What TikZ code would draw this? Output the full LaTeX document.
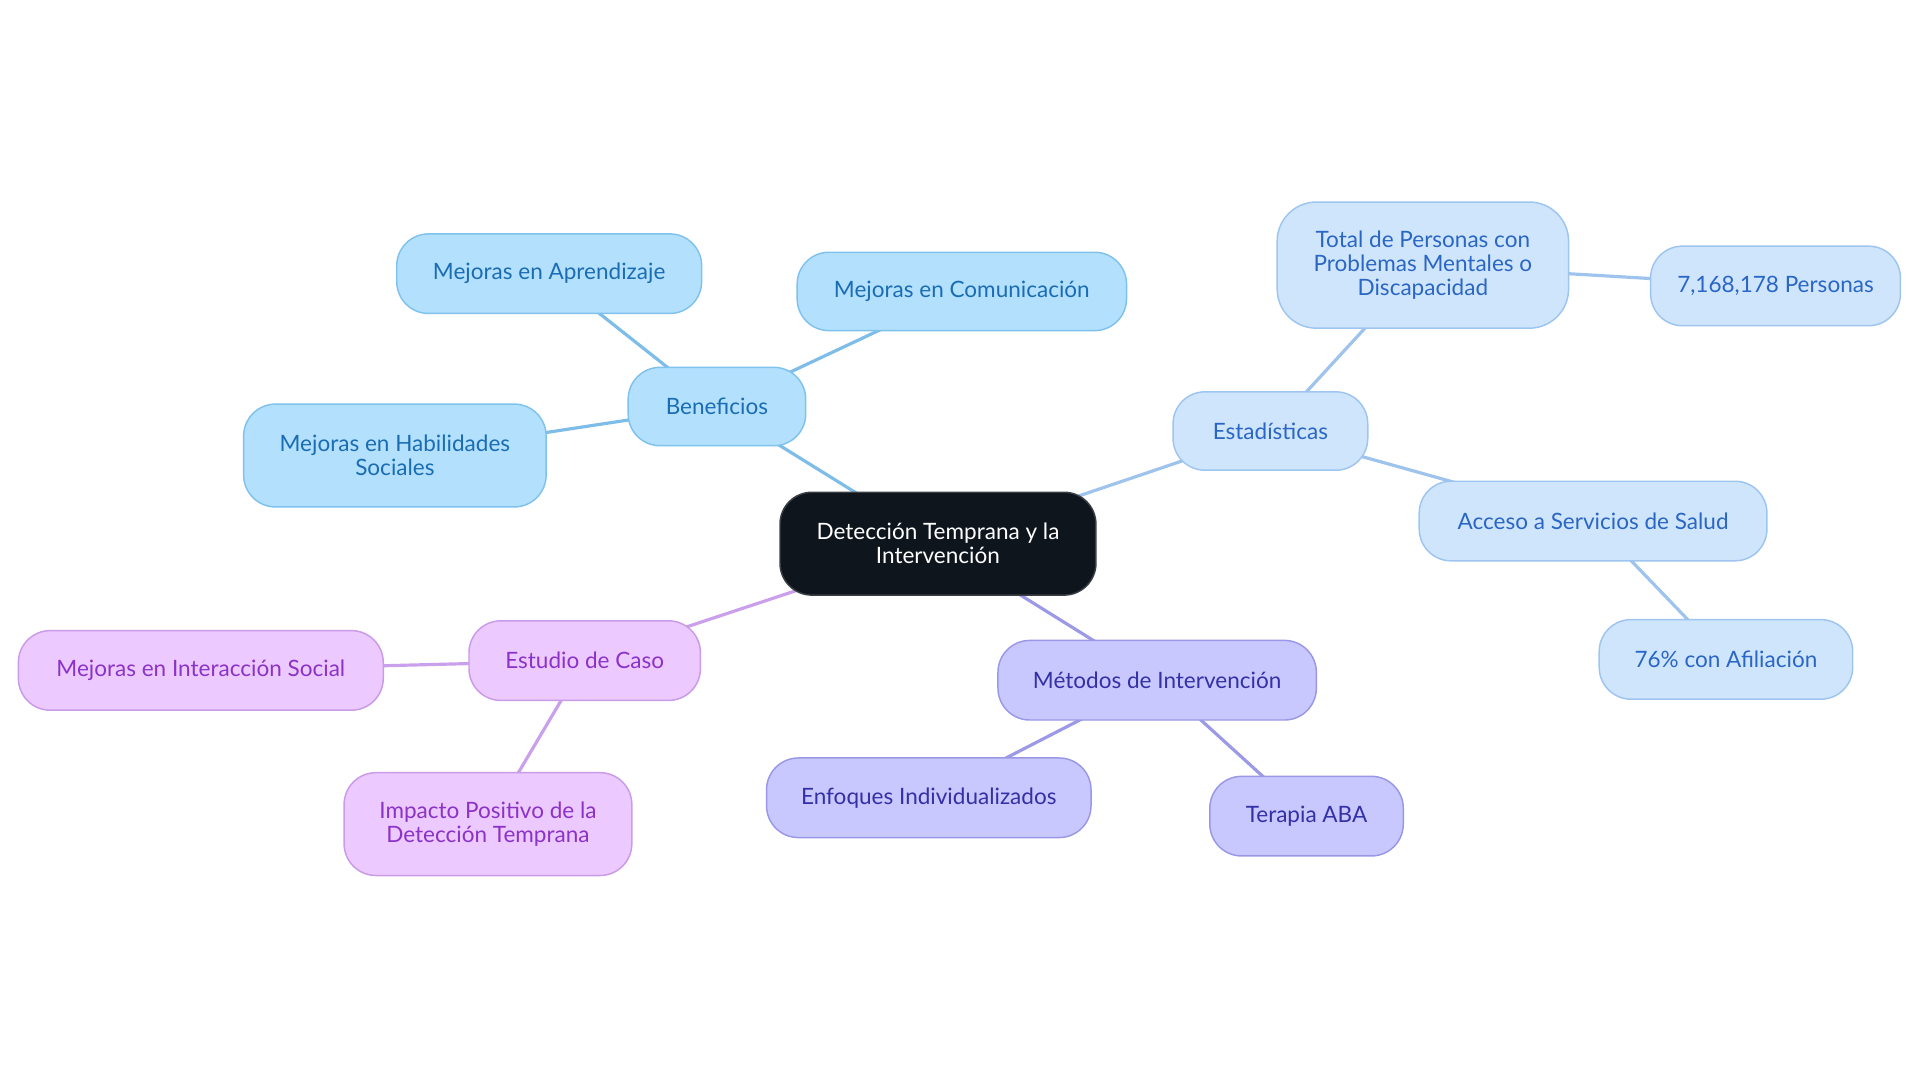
\documentclass[tikz,border=0pt]{standalone}
\usepackage{fontspec}
\setmainfont{Lato}
\usetikzlibrary{backgrounds}
\definecolor{cfillA}{HTML}{B3E0FD}
\definecolor{cdrawA}{HTML}{80C2EE}
\definecolor{ctextA}{HTML}{1A6DB5}
\definecolor{clineA}{HTML}{7DBDE8}
\definecolor{cfillB}{HTML}{CFE5FC}
\definecolor{cdrawB}{HTML}{9EC5F0}
\definecolor{ctextB}{HTML}{2A66C5}
\definecolor{clineB}{HTML}{9EC3EC}
\definecolor{cfillC}{HTML}{C8C8FE}
\definecolor{cdrawC}{HTML}{9A98E6}
\definecolor{ctextC}{HTML}{3430A6}
\definecolor{clineC}{HTML}{9C9AE6}
\definecolor{cfillD}{HTML}{ECC9FE}
\definecolor{cdrawD}{HTML}{C99BE8}
\definecolor{ctextD}{HTML}{8B33C8}
\definecolor{clineD}{HTML}{CAA0EC}
\definecolor{cfillM}{HTML}{0E151C}
\definecolor{cdrawM}{HTML}{3A3F45}
\begin{document}
\begin{tikzpicture}[x=1pt,y=-1pt,
  box/.style={rectangle, rounded corners=26pt, line width=1.2pt, inner sep=0pt, align=center,
    font=\fontsize{18.4}{19.6}\selectfont},
  boxA/.style={box, fill=cfillA, draw=cdrawA, text=ctextA},
  boxB/.style={box, fill=cfillB, draw=cdrawB, text=ctextB},
  boxC/.style={box, fill=cfillC, draw=cdrawC, text=ctextC},
  boxD/.style={box, fill=cfillD, draw=cdrawD, text=ctextD},
  boxM/.style={box, fill=cfillM, draw=cdrawM, text=white},
  edge/.style={line width=2.6pt}
]
\useasboundingbox (0,0) rectangle (1568,884);
\node[boxM, minimum width=258pt, minimum height=84pt] (m) at (766,444) {Detección Temprana y la\\Intervención};
\node[boxA, minimum width=145pt, minimum height=64pt] (ben) at (585.5,332) {Beneficios};
\node[boxA, minimum width=249pt, minimum height=65pt] (apr) at (448.5,223.5) {Mejoras en Aprendizaje};
\node[boxA, minimum width=269pt, minimum height=64pt] (com) at (785.5,238) {Mejoras en Comunicación};
\node[boxA, minimum width=247pt, minimum height=84pt] (hab) at (322.5,372) {Mejoras en Habilidades\\Sociales};
\node[boxB, minimum width=159pt, minimum height=64pt] (est) at (1037.5,352) {Estadísticas};
\node[boxB, minimum width=238pt, minimum height=103pt, rounded corners=32pt] (tot) at (1162,216.5) {Total de Personas con\\Problemas Mentales o\\Discapacidad};
\node[boxB, minimum width=204pt, minimum height=65pt] (per) at (1450,233.5) {7,168,178 Personas};
\node[boxB, minimum width=284pt, minimum height=65pt] (acc) at (1301,425.5) {Acceso a Servicios de Salud};
\node[boxB, minimum width=207pt, minimum height=65pt] (afi) at (1409.5,538.5) {76\% con Afiliación};
\node[boxC, minimum width=260pt, minimum height=65pt] (met) at (945,555.5) {Métodos de Intervención};
\node[boxC, minimum width=265pt, minimum height=65pt] (enf) at (758.5,651.5) {Enfoques Individualizados};
\node[boxC, minimum width=158pt, minimum height=65pt] (aba) at (1067,666.5) {Terapia ABA};
\node[boxD, minimum width=189pt, minimum height=65pt] (cas) at (477.5,539.5) {Estudio de Caso};
\node[boxD, minimum width=298pt, minimum height=65pt] (soc) at (164,547.5) {Mejoras en Interacción Social};
\node[boxD, minimum width=235pt, minimum height=84pt] (imp) at (398.5,673) {Impacto Positivo de la\\Detección Temprana};
\begin{scope}[on background layer]
\draw[edge, clineA] (m.center) -- (ben.center);
\draw[edge, clineA] (ben.center) -- (apr.center);
\draw[edge, clineA] (ben.center) -- (com.center);
\draw[edge, clineA] (ben.center) -- (hab.center);
\draw[edge, clineB] (m.center) -- (est.center);
\draw[edge, clineB] (est.center) -- (tot.center);
\draw[edge, clineB] (tot.center) -- (per.center);
\draw[edge, clineB] (est.center) -- (acc.center);
\draw[edge, clineB] (acc.center) -- (afi.center);
\draw[edge, clineC] (m.center) -- (met.center);
\draw[edge, clineC] (met.center) -- (enf.center);
\draw[edge, clineC] (met.center) -- (aba.center);
\draw[edge, clineD] (m.center) -- (cas.center);
\draw[edge, clineD] (cas.center) -- (soc.center);
\draw[edge, clineD] (cas.center) -- (imp.center);
\end{scope}
\end{tikzpicture}
\end{document}
